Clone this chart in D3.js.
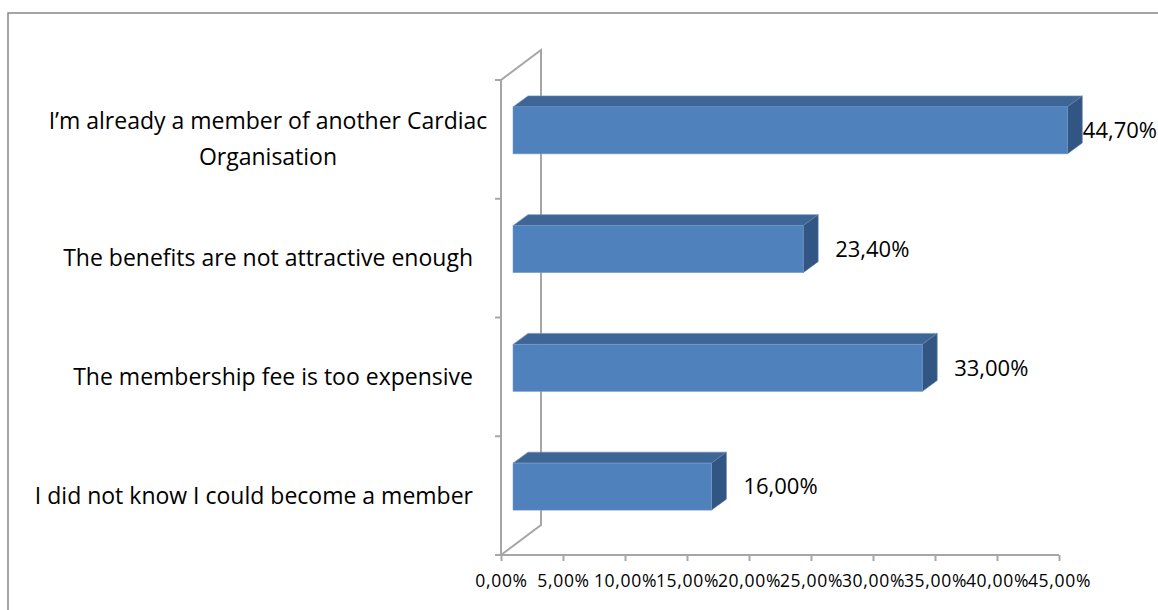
<!DOCTYPE html>
<html>
<head>
<meta charset="utf-8">
<script src="https://cdn.jsdelivr.net/npm/d3@7"></script>
<style>
  body { margin: 0; background: #fff; }
  svg text { font-family: "Open Sans", "Noto Sans", sans-serif; fill: #000; }
</style>
</head>
<body>
<div id="chart"></div>
<script>
// data
var categories = [
  ["I’m already a member of another Cardiac", "Organisation"],
  ["The benefits are not attractive enough"],
  ["The membership fee is too expensive"],
  ["I did not know I could become a member"]
];
var values = [44.7, 23.4, 33.0, 16.0];
var tickValues = [0, 5, 10, 15, 20, 25, 30, 35, 40, 45];

var width = 1158, height = 610;
var svg = d3.select("#chart").append("svg")
    .attr("width", width)
    .attr("height", height);

// chart frame
svg.append("rect")
    .attr("x", 8).attr("y", 13)
    .attr("width", 1170).attr("height", 620)
    .attr("fill", "none")
    .attr("stroke", "#888")
    .attr("stroke-width", 1.5);

var pLeft = 501, pTop = 80, pBottom = 555, pRight = 1059;
var depth = {dx: 40, dy: -30};      // back wall offset
var barOff = {dx: 12, dy: -9};      // bar front face offset
var barDepth = {dx: 15, dy: -11};   // bar thickness in depth
var barH = 47;

var x = d3.scaleLinear().domain([0, 45]).range([pLeft, pRight]);
var y = d3.scaleBand().domain(d3.range(categories.length)).range([pTop, pBottom]);

var loc = d3.formatLocale({decimal: ",", thousands: ".", grouping: [3], currency: ["", "%"]});
var fmt = function(v) { return loc.format(".2f")(v) + "%"; };

var axisColor = "#a6a6a6";

// back wall / depth lines
var g = svg.append("g");
g.append("path")
    .attr("d", "M" + pLeft + "," + pTop + "L" + (pLeft + depth.dx) + "," + (pTop + depth.dy) +
               "V" + (pBottom + depth.dy) + "L" + pLeft + "," + pBottom)
    .attr("fill", "none")
    .attr("stroke", axisColor)
    .attr("stroke-width", 2);

// bottom axis
var xAxis = g.append("g")
    .attr("transform", "translate(0," + pBottom + ")")
    .call(d3.axisBottom(x).tickValues(tickValues).tickSize(6).tickSizeOuter(0).tickFormat(fmt));
xAxis.select(".domain").remove();
g.append("line")
    .attr("x1", pLeft).attr("x2", pRight)
    .attr("y1", pBottom).attr("y2", pBottom)
    .attr("stroke", axisColor).attr("stroke-width", 2);
xAxis.selectAll("line").attr("stroke", axisColor).attr("stroke-width", 2);
xAxis.selectAll("text")
    .attr("y", 20)
    .attr("font-size", "17.5px")
    .attr("letter-spacing", "0.7px")
    .style("font-family", "'Open Sans', sans-serif")
    .attr("fill", "#000");

// left axis (category ticks at band edges)
var yEdges = d3.range(categories.length + 1).map(function(i) { return pTop + i * y.step(); });
g.append("line")
    .attr("x1", pLeft).attr("x2", pLeft)
    .attr("y1", pTop).attr("y2", pBottom)
    .attr("stroke", axisColor).attr("stroke-width", 2);
g.selectAll(".ytick").data(yEdges).enter().append("line")
    .attr("class", "ytick")
    .attr("x1", pLeft - 6).attr("x2", pLeft)
    .attr("y1", function(d) { return d; })
    .attr("y2", function(d) { return d; })
    .attr("stroke", axisColor).attr("stroke-width", 2);

// bars
var bars = g.selectAll(".bar").data(values).enter().append("g").attr("class", "bar");
function fy(i) { return y(i) + y.bandwidth() / 2 + barOff.dy - barH / 2; }
function fx0() { return x(0) + barOff.dx; }
function fx1(d) { return x(d) + barOff.dx; }

bars.append("path") // top face
    .attr("d", function(d, i) {
      var y0 = fy(i);
      return "M" + fx0() + "," + y0 + "L" + (fx0() + barDepth.dx) + "," + (y0 + barDepth.dy) +
             "H" + (fx1(d) + barDepth.dx) + "L" + fx1(d) + "," + y0 + "Z";
    })
    .attr("fill", "#3d6697")
    .attr("stroke", "#6f8fb5").attr("stroke-width", 0.6);

bars.append("path") // side face
    .attr("d", function(d, i) {
      var y0 = fy(i);
      return "M" + fx1(d) + "," + y0 + "L" + (fx1(d) + barDepth.dx) + "," + (y0 + barDepth.dy) +
             "V" + (y0 + barH + barDepth.dy) + "L" + fx1(d) + "," + (y0 + barH) + "Z";
    })
    .attr("fill", "#325684")
    .attr("stroke", "#5d7ea6").attr("stroke-width", 0.6);

bars.append("rect") // front face
    .attr("x", fx0())
    .attr("y", function(d, i) { return fy(i); })
    .attr("width", function(d) { return fx1(d) - fx0(); })
    .attr("height", barH)
    .attr("fill", "#4f81bd")
    .attr("stroke", "#7d9cc7").attr("stroke-width", 0.6);

// value labels
bars.append("text")
    .attr("font-size", "22px")
    .attr("dy", "0.35em")
    .attr("y", function(d, i) { return fy(i) + barH / 2; })
    .text(function(d) { return fmt(d); })
    .attr("x", function(d) {
      var w = this.getComputedTextLength();
      return Math.min(fx1(d) + barDepth.dx + 17, width - w - 1);
    });

// category labels
var labels = g.selectAll(".cat").data(categories).enter().append("text")
    .attr("class", "cat")
    .attr("font-size", "23px")
    .attr("text-anchor", function(d) { return d.length > 1 ? "middle" : "end"; })
    .attr("x", function(d) { return d.length > 1 ? 268 : 473; })
    .attr("y", function(d, i) { return y(i) + y.bandwidth() / 2; });

labels.selectAll("tspan").data(function(d) { return d; }).enter().append("tspan")
    .attr("x", function() { return d3.select(this.parentNode).attr("x"); })
    .attr("dy", function(t, j) {
      var n = d3.select(this.parentNode).datum().length;
      return j === 0 ? (0.35 - (n - 1) * 0.78) + "em" : "1.56em";
    })
    .text(function(t) { return t; });
</script>
</body>
</html>
